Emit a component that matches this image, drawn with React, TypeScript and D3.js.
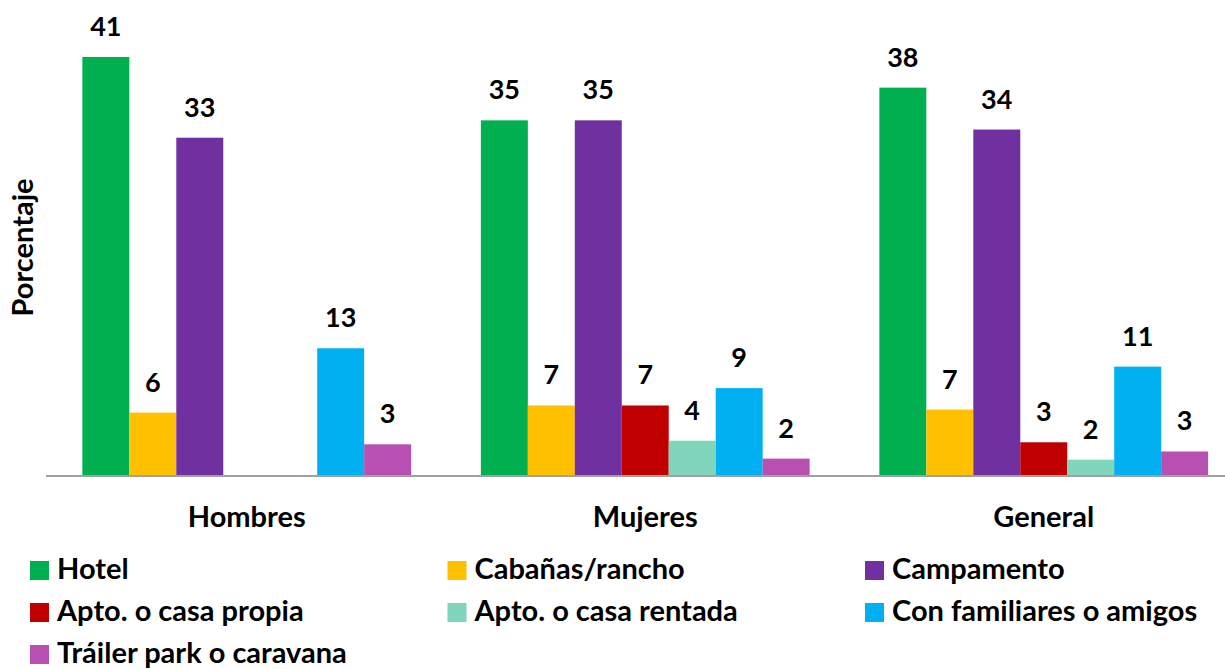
import * as d3 from "d3";

// Chart data
const groups = ["Hombres", "Mujeres", "General"];

const series = [
  "Hotel",
  "Cabañas/rancho",
  "Campamento",
  "Apto. o casa propia",
  "Apto. o casa rentada",
  "Con familiares o amigos",
  "Tráiler park o caravana",
];

const colors = ["#00B050", "#FFC000", "#7030A0", "#C00000", "#7FD6BB", "#00B0F0", "#B84FB3"];

// bar heights (estimated), one array per group, null = no bar
const hombresValues = [41, 6.2, 33.1, null, null, 12.5, 3.1];
const mujeresValues = [34.8, 6.9, 34.8, 6.9, 3.45, 8.6, 1.7];
const generalValues = [38.0, 6.5, 33.9, 3.3, 1.6, 10.7, 2.4];

// printed data labels
const hombresLabels = ["41", "6", "33", null, null, "13", "3"];
const mujeresLabels = ["35", "7", "35", "7", "4", "9", "2"];
const generalLabels = ["38", "7", "34", "3", "2", "11", "3"];

const values = [hombresValues, mujeresValues, generalValues];
const labels = [hombresLabels, mujeresLabels, generalLabels];

const yTitle = "Porcentaje";

const W = 1225;
const H = 669;
const FONT = "Lato, 'Open Sans', sans-serif";

export default function App() {
  const baseY = 476;

  const x0 = d3
    .scaleBand<string>()
    .domain(groups)
    .range([47.5, 1243])
    .paddingInner(0.175)
    .paddingOuter(0.0875);

  const x1 = d3
    .scaleBand<string>()
    .domain(series)
    .range([0, x0.bandwidth()]);

  const y = d3.scaleLinear().domain([0, 46]).range([baseY, baseY - 46 * 10.22]);

  // legend: 3 columns, rows of ~42px
  const legendCol = d3.scaleOrdinal<number, number>().domain([0, 1, 2]).range([30, 447.5, 865]);
  const legendRow = (i: number) => 579 + Math.floor(i / 3) * 42;

  return (
    <svg
      width={W}
      height={H}
      style={{ position: "absolute", left: 0, top: 0, background: "#fff" }}
      fontFamily={FONT}
      fontWeight={700}
    >
      {groups.map((g, gi) => (
        <g key={g} transform={`translate(${x0(g)},0)`}>
          {series.map((s, si) => {
            const v = values[gi][si];
            if (v == null) return null;
            const bx = x1(s)!;
            const bw = x1.bandwidth();
            return (
              <g key={s}>
                <rect x={bx} y={y(v)} width={bw} height={baseY - y(v)} fill={colors[si]} />
                {labels[gi][si] && (
                  <text
                    x={bx + bw / 2}
                    y={y(v) - 21}
                    textAnchor="middle"
                    fontSize={27}
                    fill="#000"
                  >
                    {labels[gi][si]}
                  </text>
                )}
              </g>
            );
          })}
          <text
            x={x0.bandwidth() / 2}
            y={527}
            textAnchor="middle"
            fontSize={29}
            fill="#000"
          >
            {g}
          </text>
        </g>
      ))}

      {/* category axis line */}
      <line x1={46} x2={W} y1={baseY} y2={baseY} stroke="#A0A0A0" strokeWidth={2} />

      {/* y axis title */}
      <text
        transform={`translate(33,247.5) rotate(-90)`}
        textAnchor="middle"
        fontSize={29}
        fill="#000"
      >
        {yTitle}
      </text>

      {/* legend */}
      {series.map((s, i) => {
        const lx = legendCol(i % 3);
        const ly = legendRow(i);
        return (
          <g key={s}>
            <rect x={lx} y={ly - 18} width={19} height={19} fill={colors[i]} />
            <text x={lx + 27} y={ly} fontSize={29} fill="#000">
              {s}
            </text>
          </g>
        );
      })}
    </svg>
  );
}
